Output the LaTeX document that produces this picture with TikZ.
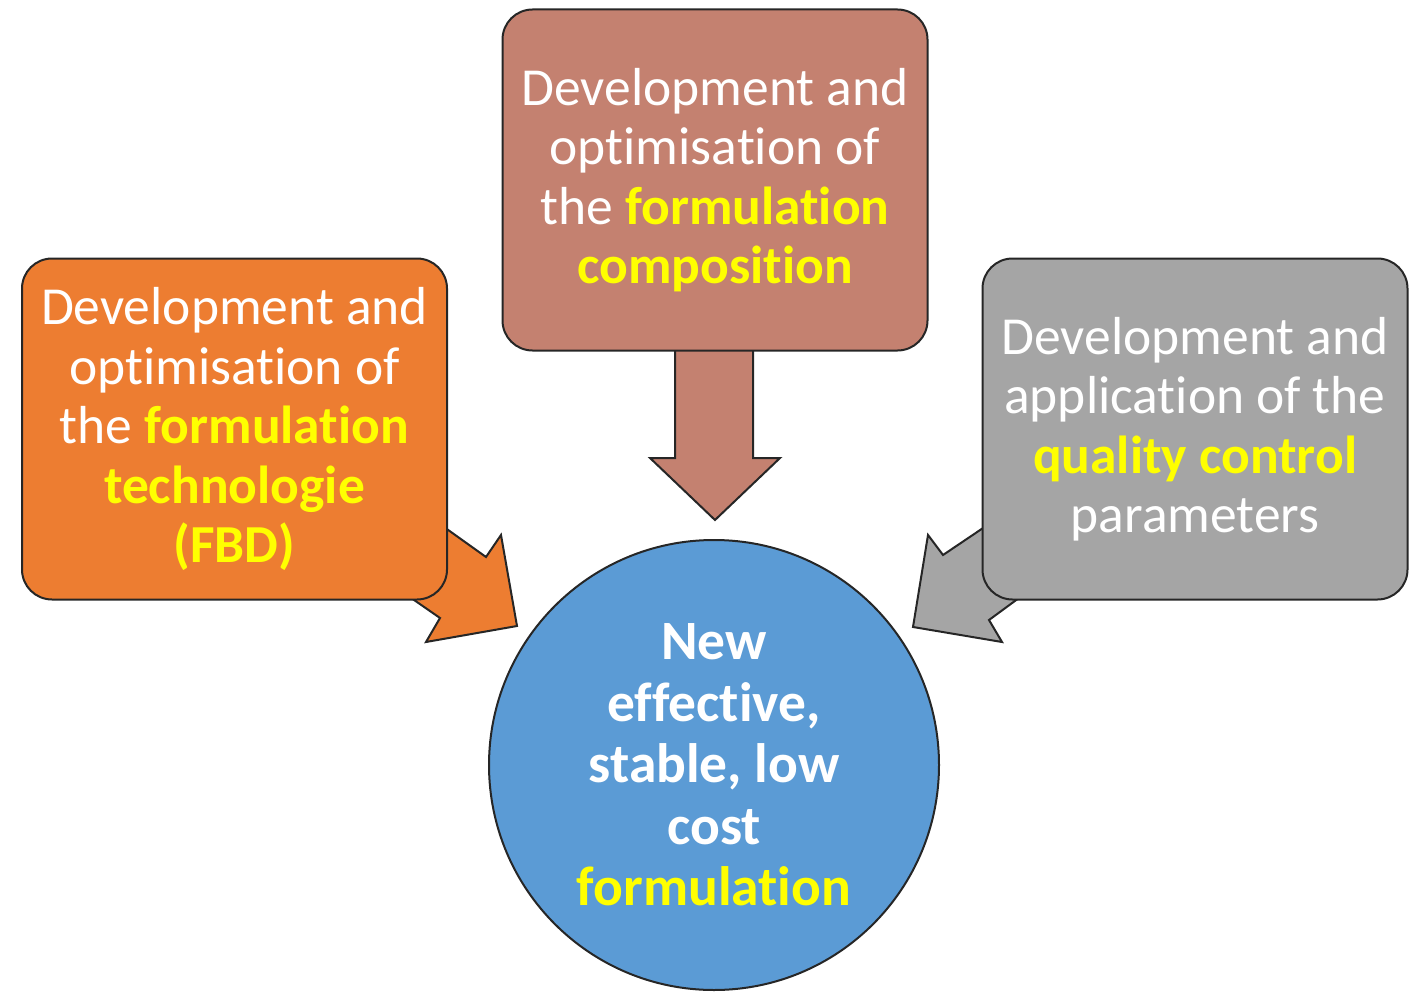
\documentclass[tikz,border=0pt]{standalone}
\usepackage{fontspec}
\setmainfont{Carlito}[Ligatures=NoCommon]
\usetikzlibrary{positioning}
\pgfdeclarelayer{back}
\pgfsetlayers{back,main}
\definecolor{techorange}{HTML}{ED7D31}
\definecolor{comprose}{HTML}{C48170}
\definecolor{qcgrey}{HTML}{A5A5A5}
\definecolor{resultblue}{HTML}{5B9BD5}
\definecolor{keyyellow}{HTML}{FFFF00}
\newcommand{\keyword}[1]{{\bfseries\color{keyyellow}#1}}
\tikzset{
  task box/.style={
    draw=black!85,
    line width=2pt,
    rounded corners=30pt,
    minimum width=425pt,
    minimum height=341pt,
    text=white,
    align=center,
    font=\fontsize{53.5}{59.5}\selectfont
  },
  block arrow/.style={draw=black!85, line width=2pt, line join=miter}
}

\begin{document}
\begin{tikzpicture}[x=1pt,y=-1pt]

  \useasboundingbox (0,0) rectangle (1410,995);

  \node [task box, fill=techorange] at(234.5,429) (technology) {Development and\\optimisation of\\the \keyword{formulation}\\\keyword{technologie}\\\keyword{(FBD)}};

  \node [task box, fill=comprose] at(715,180) (composition) {Development and\\optimisation of\\the \keyword{formulation}\\\keyword{composition}};

  \node [task box, fill=qcgrey] at(1195,429) (quality) {Development and\\application of the\\\keyword{quality control}\\parameters};

  \node [draw=black!85, line width=2pt, circle, minimum size=450pt, fill=resultblue, text=white, align=center, font=\fontsize{55.5}{61.5}\selectfont\bfseries] at(714,765) (result) {New\\effective,\\stable, low\\cost\\\keyword{formulation}};

  % block arrows sit behind the boxes
  \begin{pgfonlayer}{back}
    \draw[block arrow, fill=comprose] (675,340) -- (675,458) -- (650,458) -- (715,520) -- (780,458) -- (753,458) -- (753,340) -- cycle;
    \draw[block arrow, fill=techorange] (437,522) -- (486,557) -- (501,535) -- (517,626) -- (426,642) -- (440,618) -- (391,584) -- cycle;
    \draw[block arrow, fill=qcgrey] (992,522) -- (943,555) -- (928,535) -- (913,627) -- (1002,642) -- (989,620) -- (1038,584) -- cycle;
  \end{pgfonlayer}

\end{tikzpicture}
\end{document}
